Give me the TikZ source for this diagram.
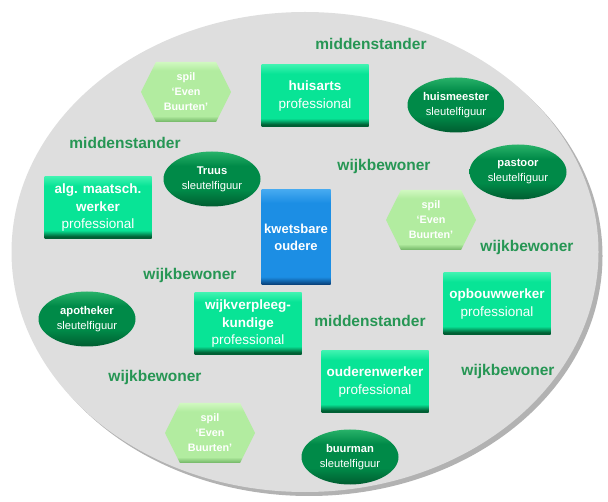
\documentclass[tikz,border=0pt]{standalone}
\usepackage{fontspec}
\setmainfont{Liberation Sans}
\usepackage{xcolor}
\usepackage{tikz}
\usetikzlibrary{
  positioning,
  shapes.geometric,
  shapes.symbols,
  shadows
}

\definecolor{areagray}{RGB}{222,222,222}
\definecolor{rolegreen}{RGB}{38,150,84}
\definecolor{profmain}{RGB}{8,228,150}
\definecolor{proflight}{RGB}{60,242,175}
\definecolor{profdark}{RGB}{0,95,52}
\definecolor{keylight}{RGB}{40,178,105}
\definecolor{keymain}{RGB}{0,138,72}
\definecolor{keydark}{RGB}{0,92,48}
\definecolor{spillight}{RGB}{208,248,192}
\definecolor{spilmain}{RGB}{178,236,160}
\definecolor{spildark}{RGB}{112,180,100}
\definecolor{oldlight}{RGB}{70,170,240}
\definecolor{oldmain}{RGB}{28,142,228}
\definecolor{olddark}{RGB}{8,62,118}

\pgfdeclareverticalshading{profshade}{100bp}{color(0bp)=(profdark); color(25bp)=(profdark); color(27bp)=(profdark); color(32bp)=(profmain); color(68bp)=(profmain); color(75bp)=(proflight); color(100bp)=(proflight)}
\pgfdeclareverticalshading{keyshade}{100bp}{color(0bp)=(keydark); color(25bp)=(keydark); color(40bp)=(keymain); color(62bp)=(keymain); color(75bp)=(keylight); color(100bp)=(keylight)}
\pgfdeclareverticalshading{spilshade}{100bp}{color(0bp)=(spildark); color(25bp)=(spildark); color(30bp)=(spilmain); color(68bp)=(spilmain); color(75bp)=(spillight); color(100bp)=(spillight)}
\pgfdeclareverticalshading{oldshade}{100bp}{color(0bp)=(olddark); color(25bp)=(olddark); color(29bp)=(oldmain); color(68bp)=(oldmain); color(75bp)=(oldlight); color(100bp)=(oldlight)}

\begin{document}
\begin{tikzpicture}[
  x=1pt, y=-1pt,
  role/.style={text=rolegreen, font=\fontsize{15.5}{18}\selectfont\bfseries},
  prof/.style={
    rectangle, shade, shading=profshade, text=white, align=center,
    minimum width=107pt, minimum height=62pt, inner sep=0pt,
    font=\fontsize{13.5}{17.5}\selectfont\bfseries
  },
  key/.style={
    ellipse, shade, shading=keyshade, text=white, align=center,
    minimum width=97pt, minimum height=55pt, inner sep=0pt,
    font=\fontsize{11.2}{15}\selectfont\bfseries
  },
  spil/.style={
    signal, signal to=east and west, signal pointer angle=127,
    shade, shading=spilshade, text=white, align=center,
    minimum width=90pt, minimum height=60pt, inner sep=0pt,
    font=\fontsize{10.8}{15}\selectfont\bfseries
  },
  elder/.style={
    rectangle, shade, shading=oldshade, text=white, align=center,
    minimum width=69pt, minimum height=95pt, inner sep=0pt,
    font=\fontsize{13}{17}\selectfont\bfseries
  }
]
\useasboundingbox (0,0) rectangle (608,502);

% wijk
\node [ellipse, fill=areagray, minimum width=587pt, minimum height=480pt, inner sep=0pt,
  drop shadow={shadow xshift=4pt, shadow yshift=-4pt, fill=black!60, opacity=.5}]
  (wijk) at (305,252) {};

% kern
\node [elder] (kwetsbare) at (296,237) {kwetsbare\\oudere};

% professionals
\node [prof] (huisarts) at (315,96) {huisarts\\\mdseries professional};
\node [prof] (maatsch) at (98,208) {alg. maatsch.\\werker\\\mdseries professional};
\node [prof] (opbouw) at (497,304) {opbouwwerker\\\mdseries professional};
\node [prof] (wijkverpl) at (248,324) {wijkverpleeg-\\kundige\\\mdseries professional};
\node [prof] (ouderen) at (375,382) {ouderenwerker\\\mdseries professional};

% sleutelfiguren
\node [key] (truus) at (212,179) {Truus\\\mdseries sleutelfiguur};
\node [key] (huismeester) at (456,105) {huismeester\\\mdseries sleutelfiguur};
\node [key] (pastoor) at (518,172) {pastoor\\\mdseries sleutelfiguur};
\node [key] (apotheker) at (87,319) {apotheker\\\mdseries sleutelfiguur};
\node [key] (buurman) at (350,457) {buurman\\\mdseries sleutelfiguur};

% spil
\node [spil] (spil-a) at (186,92) {spil\\`Even\\Buurten'};
\node [spil] (spil-b) at (431,220) {spil\\`Even\\Buurten'};
\node [spil] (spil-c) at (210,433) {spil\\`Even\\Buurten'};

% rollen
\node [role] (midden-a) at (371,44) {middenstander};
\node [role] (midden-b) at (125,143) {middenstander};
\node [role] (midden-c) at (370,321) {middenstander};
\node [role] (bewoner-a) at (384,166) {wijkbewoner};
\node [role] (bewoner-b) at (527,247) {wijkbewoner};
\node [role] (bewoner-c) at (190,275) {wijkbewoner};
\node [role] (bewoner-d) at (155,377) {wijkbewoner};
\node [role] (bewoner-e) at (508,371) {wijkbewoner};
\end{tikzpicture}
\end{document}
